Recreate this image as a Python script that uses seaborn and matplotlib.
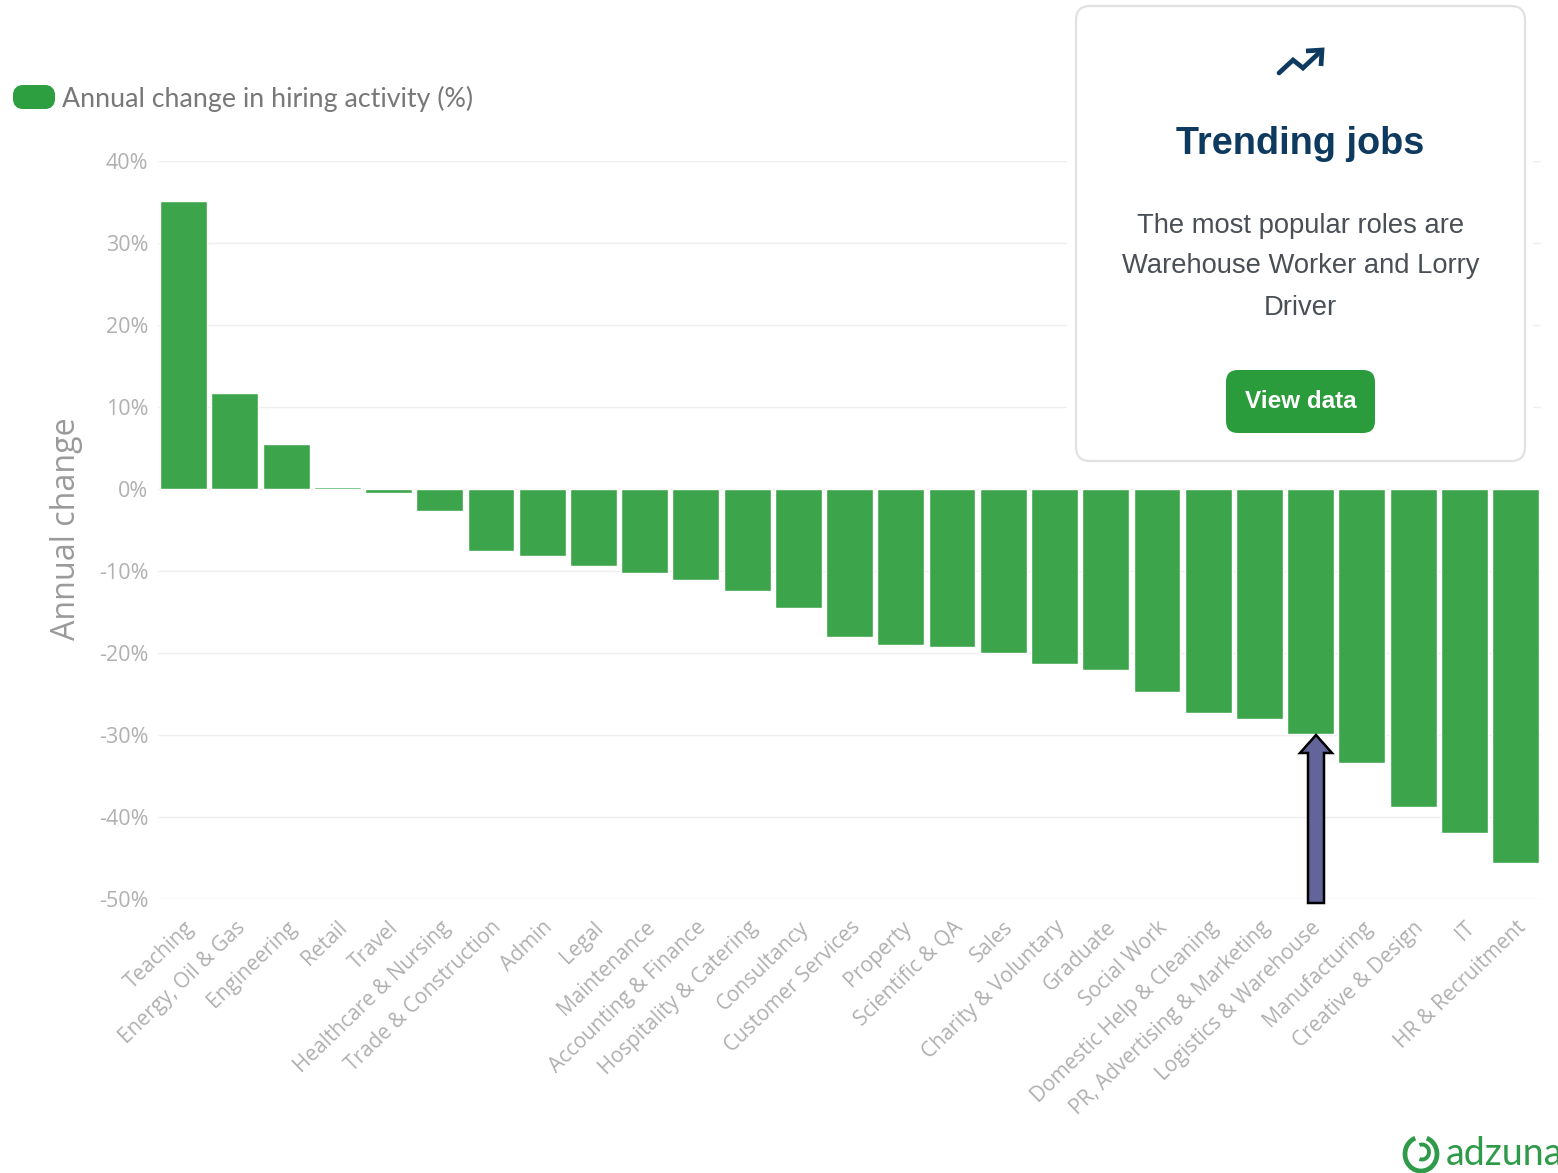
"""
Annual change in hiring activity by job category
"""
import matplotlib
matplotlib.use("Agg")
import matplotlib.pyplot as plt
from matplotlib.patches import Arc, FancyArrow, FancyBboxPatch, Rectangle
from matplotlib.transforms import ScaledTranslation
import seaborn as sns
import pandas as pd

categories = [
    "Teaching", "Energy, Oil & Gas", "Engineering", "Retail", "Travel",
    "Healthcare & Nursing", "Trade & Construction", "Admin", "Legal",
    "Maintenance", "Accounting & Finance", "Hospitality & Catering",
    "Consultancy", "Customer Services", "Property", "Scientific & QA",
    "Sales", "Charity & Voluntary", "Graduate", "Social Work",
    "Domestic Help & Cleaning", "PR, Advertising & Marketing",
    "Logistics & Warehouse", "Manufacturing", "Creative & Design", "IT",
    "HR & Recruitment",
]
annual_change = [
    35.1, 11.7, 5.5, 0.3, -0.5, -2.7, -7.5, -8.2, -9.4, -10.3, -11.1, -12.4,
    -14.5, -18.0, -19.0, -19.3, -20.0, -21.4, -22.1, -24.7, -27.3, -28.0,
    -29.9, -33.4, -38.8, -42.0, -45.6,
]
y_ticks = [40, 30, 20, 10, 0, -10, -20, -30, -40, -50]

W, H = 1558, 1173
BAR_GREEN = "#3ca54b"
LEGEND_GREEN = "#2e9f40"
NAVY = "#0f3a5f"

sns.set_theme(style="whitegrid")
plt.rcParams['font.family'] = ['Open Sans', 'DejaVu Sans']

df = pd.DataFrame({"category": categories, "change": annual_change})

fig = plt.figure(figsize=(W / 100, H / 100), dpi=100, facecolor="white")
ax = fig.add_axes([158.0 / W, 1 - 899 / H, (1541.2 - 158.0) / W, (899 - 161) / H])

sns.barplot(data=df, x="category", y="change", color=BAR_GREEN, saturation=1,
            width=0.915, ax=ax)

ax.set_xlim(-0.5, len(categories) - 0.5)
ax.set_ylim(-50, 40)
ax.set_yticks(y_ticks)
ax.set_yticklabels([f"{v}%" for v in y_ticks], fontsize=15.5, color="#b0b0b0")
ax.set_xticks(range(len(categories)))
ax.set_xticklabels(categories, rotation=44, ha="right", va="top",
                   rotation_mode="anchor", fontsize=15, color="#b0b0b0")
# the labels sit a few pixels right of their ticks in the original
for label in ax.get_xticklabels():
    label.set_transform(label.get_transform() + ScaledTranslation(3 / 100, 0, fig.dpi_scale_trans))
ax.tick_params(axis="x", length=7, width=1, color="#f0f0f0", pad=6)
ax.tick_params(axis="y", length=0, pad=7)
ax.grid(axis="y", color="#efefef", linewidth=1)
ax.grid(axis="x", visible=False)
ax.set_axisbelow(True)
sns.despine(ax=ax, left=True, bottom=True)
ax.set_xlabel("")
ax.set_ylabel("")

# everything outside the plot is placed in pixel coordinates
over = fig.add_axes([0, 0, 1, 1], zorder=5)
over.set_xlim(0, W)
over.set_ylim(H, 0)
over.axis("off")
over.patch.set_alpha(0)

over.text(67, 529, "Annual change", rotation=90, ha="center", va="center",
          fontsize=23.2, color="#9a9a9a")

# legend
over.add_patch(FancyBboxPatch((18, 90), 32, 14, boxstyle="round,pad=0,rounding_size=5",
                              mutation_aspect=1, facecolor=LEGEND_GREEN,
                              edgecolor=LEGEND_GREEN, linewidth=10 * 0.72))
over.text(62, 99, "Annual change in hiring activity (%)", ha="left", va="center",
          fontsize=19.3, color="#787878", family=["Lato", "DejaVu Sans"])

# card
over.add_patch(Rectangle((1067, 0), 466, 470, facecolor="white", edgecolor="none"))
over.add_patch(FancyBboxPatch((1076, 6), 449, 455, boxstyle="round,pad=0,rounding_size=14",
                              facecolor="white", edgecolor="#e2e2e2", linewidth=1.6))
over.plot([1279, 1293, 1303, 1320], [73, 60, 68, 52], color=NAVY, linewidth=3.4,
          solid_capstyle="round", solid_joinstyle="miter")
over.plot([1306, 1322, 1321], [51, 50, 66], color=NAVY, linewidth=3.4,
          solid_capstyle="butt", solid_joinstyle="miter")
card_font = ["Liberation Sans", "DejaVu Sans"]
over.text(1300.5, 144, "Trending jobs", ha="center", va="center", fontsize=27.3,
          fontweight="bold", color=NAVY, family=card_font)
for line, y in zip(["The most popular roles are", "Warehouse Worker and Lorry", "Driver"],
                   [226, 266, 308]):
    over.text(1300.5, y, line, ha="center", va="center", fontsize=19.7,
              color="#4a4f57", family=card_font)
over.add_patch(FancyBboxPatch((1226, 370), 149, 63, boxstyle="round,pad=0,rounding_size=12",
                              facecolor="#2a9c3c", edgecolor="none"))
over.text(1300.5, 402, "View data", ha="center", va="center", fontsize=17.5,
          fontweight="bold", color="white", family=card_font)

# arrow pointing at Logistics & Warehouse
over.add_patch(FancyArrow(1316, 903, 0, -168, width=16, head_width=32, head_length=18,
                          length_includes_head=True, facecolor="#62649a",
                          edgecolor="black", linewidth=1.8))

# logo, cut off by the right edge as in the original
logo_green = "#2f9a48"
over.add_patch(Arc((1421, 1154), 32, 34, theta1=-70, theta2=250, color=logo_green, linewidth=3.4))
over.add_patch(Arc((1422, 1152), 14, 15, theta1=-110, theta2=110, color=logo_green, linewidth=2.8))
txt = over.text(1446, 1154, "adzuna", ha="left", va="center", fontsize=27,
                color=logo_green, family=["Lato", "DejaVu Sans"])
txt.set_clip_on(True)

plt.savefig("out.png", dpi=100)
plt.close()
